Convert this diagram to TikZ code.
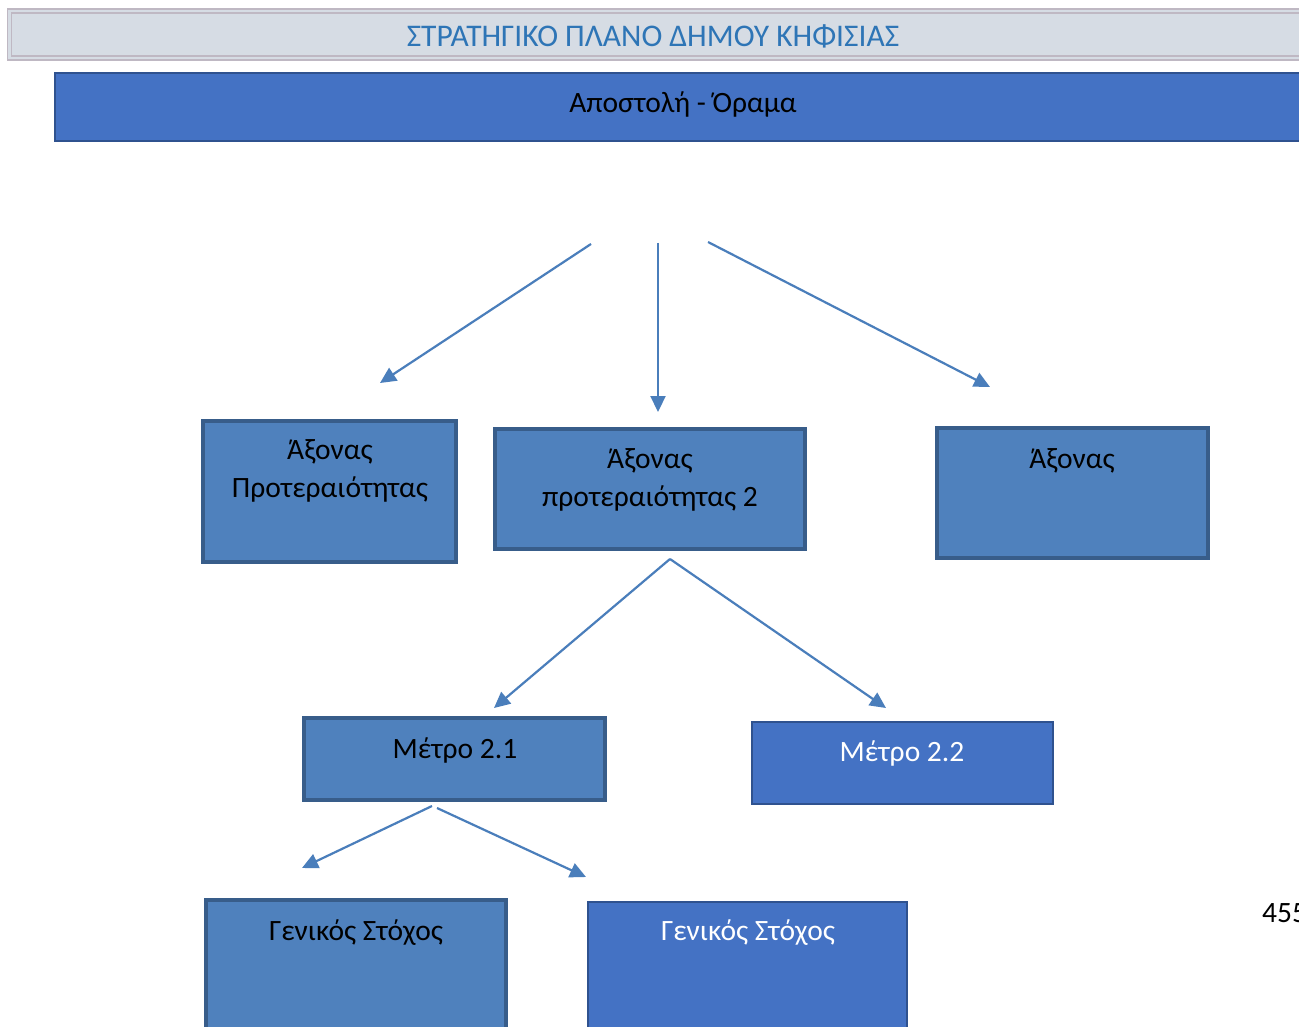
\documentclass[tikz,border=0pt]{standalone}
\usepackage{fontspec}
\setmainfont{Carlito}
\usetikzlibrary{arrows.meta}
\definecolor{titlefill}{HTML}{D6DCE4}
\definecolor{titleline}{HTML}{BFB8C3}
\definecolor{titletext}{HTML}{2E75B6}
\definecolor{darkfill}{HTML}{4472C4}
\definecolor{darkline}{HTML}{2F528F}
\definecolor{lightfill}{HTML}{4F81BD}
\definecolor{lightline}{HTML}{385D8A}
\definecolor{arrowblue}{HTML}{4A7EBB}
\begin{document}
\begin{tikzpicture}[x=1pt,y=-1pt,
		boxthick/.style={draw=lightline,fill=lightfill,line width=4pt},
		boxthin/.style={draw=darkline,fill=darkfill,line width=2pt},
		txt/.style={font=\fontsize{29.5}{38}\selectfont,align=center,inner sep=0pt},
		link/.style={draw=arrowblue,line width=2.2pt,-{Triangle[length=16pt,width=15pt]}}]
		\useasboundingbox (0,0) rectangle (1299,1027);
		\fill[white] (0,0) rectangle (1299,1027);
		% title bar
		\draw[titleline,line width=1.5pt,fill=titlefill] (7.5,9) rectangle (1330,60);
		\draw[titleline,line width=1.2pt] (11.5,13) rectangle (1330,56);
		\node[txt,text=titletext,font=\fontsize{31.5}{36}\selectfont] (title) at (653,36) {ΣΤΡΑΤΗΓΙΚΟ ΠΛΑΝΟ ΔΗΜΟΥ ΚΗΦΙΣΙΑΣ};
		\draw[boxthin] (55,73) rectangle (1330,141);
		\node[txt] (mission) at (683,104) {Αποστολή - Όραμα};
		% boxes
		\draw[boxthick] (203,421) rectangle (456,562);
		\draw[boxthick] (495,429) rectangle (805,549);
		\draw[boxthick] (937,428) rectangle (1208,558);
		\draw[boxthick] (304,718) rectangle (605,800);
		\draw[boxthin] (752,722) rectangle (1053,804);
		\draw[boxthick] (206,900) rectangle (506,1040);
		\draw[boxthin] (588,902) rectangle (907,1040);
		\node[txt] (axis1) at (330,471) {Άξονας\\Προτεραιότητας};
		\node[txt] (axis2) at (650,480) {Άξονας\\προτεραιότητας 2};
		\node[txt] (axis3) at (1072,461) {Άξονας};
		\node[txt] (measure1) at (455,750) {Μέτρο 2.1};
		\node[txt,text=white] (measure2) at (902,753) {Μέτρο 2.2};
		\node[txt] (goal1) at (356,933) {Γενικός Στόχος};
		\node[txt,text=white] (goal2) at (748,933) {Γενικός Στόχος};
		\node[txt,anchor=west] (page) at (1262,913) {455};
		% arrows
		\coordinate (s1) at (591,244); \coordinate (e1) at (380,383);
		\coordinate (s2) at (658,243); \coordinate (e2) at (658,412);
		\coordinate (s3) at (708,242); \coordinate (e3) at (990,387);
		\coordinate (s4) at (670,559); \coordinate (e4) at (494,708);
		\coordinate (e5) at (886,708);
		\coordinate (s6) at (432,806); \coordinate (e6) at (302,868);
		\coordinate (s7) at (437,808); \coordinate (e7) at (586,877);
		\draw[link] (s1) -- (e1);
		\draw[link] (s2) -- (e2);
		\draw[link] (s3) -- (e3);
		\draw[link] (s4) -- (e4);
		\draw[link] (s4) -- (e5);
		\draw[link] (s6) -- (e6);
		\draw[link] (s7) -- (e7);
	\end{tikzpicture}
\end{document}
